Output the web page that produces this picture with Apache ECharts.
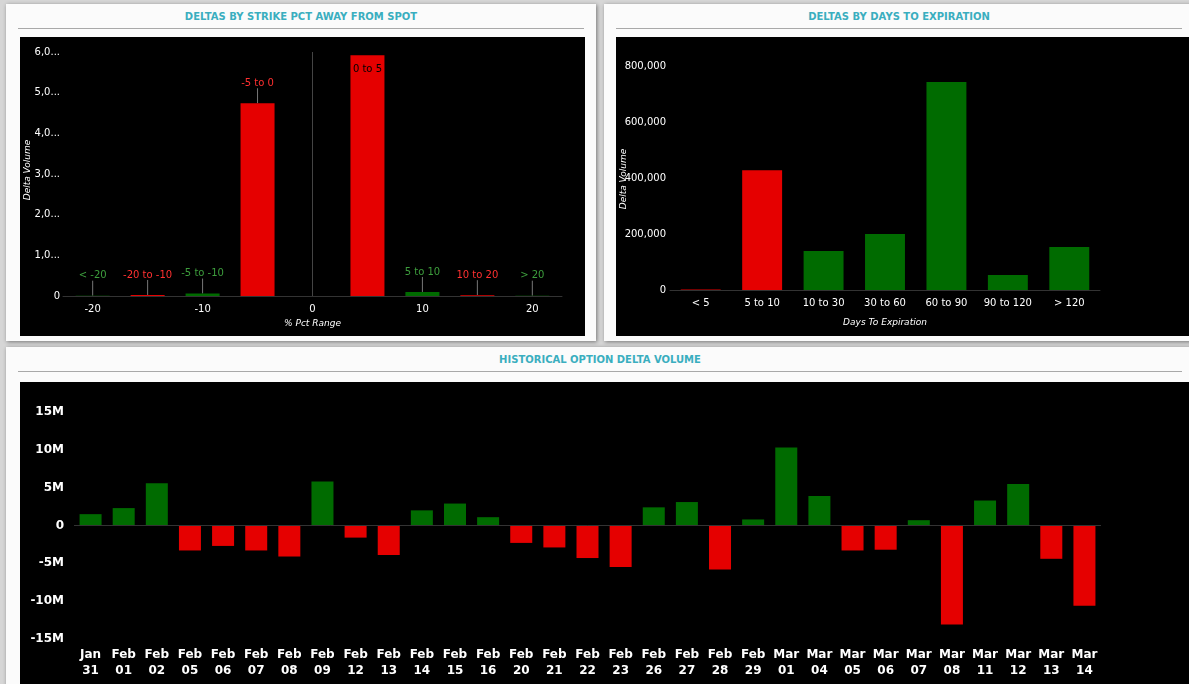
<!DOCTYPE html>
<html>
<head>
<meta charset="utf-8">
<script src="https://cdn.jsdelivr.net/npm/echarts@6/dist/echarts.min.js"></script>
<style>
  body { margin: 0; width: 1189px; height: 684px; background: #d6d6d6; overflow: hidden; font-family: Verdana, "DejaVu Sans", sans-serif; }
  .panel { position: absolute; background: #fbfbfb; box-shadow: 1px 1px 4px rgba(0,0,0,0.45); }
  .title { position: absolute; left: 12px; right: 12px; top: 8px; height: 16px; border-bottom: 1px solid #a9a9a9;
           text-align: center; color: #3aaebf; font-weight: bold; font-size: 10px; line-height: 10px; }
  .chart { position: absolute; background: #000; }
</style>
</head>
<body>
<div class="panel" style="left:6px;top:4px;width:590px;height:337px">
  <div class="title">DELTAS BY STRIKE PCT AWAY FROM SPOT</div>
  <div class="chart" id="strike" style="left:14px;top:33px;width:565px;height:299px"></div>
</div>
<div class="panel" style="left:604px;top:4px;width:590px;height:337px">
  <div class="title">DELTAS BY DAYS TO EXPIRATION</div>
  <div class="chart" id="expiry" style="left:12px;top:33px;width:578px;height:299px"></div>
</div>
<div class="panel" style="left:6px;top:347px;width:1188px;height:340px">
  <div class="title">HISTORICAL OPTION DELTA VOLUME</div>
  <div class="chart" id="history" style="left:14px;top:35px;width:1174px;height:305px"></div>
</div>
<script>
var RED = '#e50000', GREEN = '#006b00';

// strike pct away from spot
var strikeLabels = ['< -20', '-20 to -10', '-5 to -10', '-5 to 0', '0 to 5', '5 to 10', '10 to 20', '> 20'];
var strikePos    = [-20, -15, -10, -5, 5, 10, 15, 20];
var strikeValues = [8000, 25000, 60000, 4740000, 5920000, 100000, 20000, 8000];
var strikeSigns  = [1, -1, 1, -1, -1, 1, -1, 1];

// days to expiration
var expiryCats   = ['< 5', '5 to 10', '10 to 30', '30 to 60', '60 to 90', '90 to 120', '> 120'];
var expiryValues = [2000, 428000, 139000, 200000, 743000, 54000, 154000];
var expirySigns  = [-1, -1, 1, 1, 1, 1, 1];

// historical
var histDates  = ['Jan\n31','Feb\n01','Feb\n02','Feb\n05','Feb\n06','Feb\n07','Feb\n08','Feb\n09','Feb\n12','Feb\n13','Feb\n14','Feb\n15','Feb\n16','Feb\n20','Feb\n21','Feb\n22','Feb\n23','Feb\n26','Feb\n27','Feb\n28','Feb\n29','Mar\n01','Mar\n04','Mar\n05','Mar\n06','Mar\n07','Mar\n08','Mar\n11','Mar\n12','Mar\n13','Mar\n14'];
var histValues = [1.5, 2.3, 5.6, -3.3, -2.7, -3.3, -4.1, 5.8, -1.6, -3.9, 2.0, 2.9, 1.1, -2.3, -2.9, -4.3, -5.5, 2.4, 3.1, -5.8, 0.8, 10.3, 3.9, -3.3, -3.2, 0.7, -13.1, 3.3, 5.5, -4.4, -10.6];
var histTicks  = [-15, -10, -5, 0, 5, 10, 15];

var FONT = 'Verdana, DejaVu Sans';
var axisText = { color: '#fff', fontSize: 10, fontFamily: FONT };
var nameText = { color: '#fff', fontSize: 9, fontStyle: 'italic', fontFamily: FONT };

// rotated y axis title, drawn over the tick labels like the original
function yName(x, y) {
  return { type: 'text', x: x, y: y, rotation: Math.PI / 2, silent: true,
           style: { text: 'Delta Volume', fill: '#fff', font: 'italic 9px ' + FONT, align: 'center', verticalAlign: 'middle' } };
}

var strikeChart = echarts.init(document.getElementById('strike'));
strikeChart.setOption({
  backgroundColor: '#000',
  animation: false,
  grid: { left: 43, right: 23, top: 15, bottom: 40, containLabel: false, outerBoundsMode: 'none' },
  graphic: [yName(8, 133)],
  xAxis: {
    type: 'value', min: -22.7, max: 22.7,
    name: '% Pct Range', nameLocation: 'middle', nameGap: 22, nameTextStyle: nameText,
    axisLine: { lineStyle: { color: '#333' } },
    axisTick: { show: false },
    splitLine: { show: false },
    axisLabel: Object.assign({ customValues: [-20, -10, 0, 10, 20], margin: 8 }, axisText)
  },
  yAxis: {
    type: 'value', min: 0, max: 6000000, interval: 1000000,
    axisLine: { show: false }, axisTick: { show: false }, splitLine: { show: false },
    axisLabel: Object.assign({
      margin: 3,
      formatter: function (v) { return v === 0 ? '0' : v.toLocaleString('en-US').slice(0, 3) + '...'; }
    }, axisText)
  },
  series: [{
    type: 'bar', barWidth: 34,
    data: strikePos.map(function (p, i) {
      var c = strikeSigns[i] > 0 ? GREEN : RED;
      return {
        value: [p, strikeValues[i]],
        itemStyle: { color: c },
        label: { show: true, position: 'top', formatter: strikeLabels[i],
                 color: i === 4 ? '#000' : (strikeSigns[i] > 0 ? '#3d9e3d' : '#ff3030'),
                 fontSize: 10, fontFamily: FONT }
      };
    }),
    labelLayout: function (p) { return p.dataIndex === 4 ? { dy: 24 } : { dy: -10 }; },
    labelLine: { show: true, lineStyle: { color: '#777', width: 1 } },
    markLine: {
      symbol: 'none', silent: true, label: { show: false },
      lineStyle: { color: '#444', type: 'solid', width: 1 },
      data: [[{ coord: [0, 0] }, { coord: [0, 6000000] }]]
    }
  }]
});

var expiryChart = echarts.init(document.getElementById('expiry'));
expiryChart.setOption({
  backgroundColor: '#000',
  animation: false,
  grid: { left: 54, right: 94, top: 29, bottom: 46, containLabel: false, outerBoundsMode: 'none' },
  graphic: [yName(8, 142)],
  xAxis: {
    type: 'category', data: expiryCats,
    name: 'Days To Expiration', nameLocation: 'middle', nameGap: 28, nameTextStyle: nameText,
    axisLine: { lineStyle: { color: '#333' } }, axisTick: { show: false },
    axisLabel: Object.assign({ margin: 8, interval: 0 }, axisText)
  },
  yAxis: {
    type: 'value', min: 0, max: 800000, interval: 200000,
    axisLine: { show: false }, axisTick: { show: false }, splitLine: { show: false },
    axisLabel: Object.assign({ formatter: function (v) { return v.toLocaleString('en-US'); }, margin: 4 }, axisText)
  },
  series: [{
    type: 'bar', barWidth: '65%',
    data: expiryValues.map(function (v, i) {
      return { value: v, itemStyle: { color: expirySigns[i] > 0 ? GREEN : RED } };
    })
  }]
});

var histChart = echarts.init(document.getElementById('history'));
histChart.setOption({
  backgroundColor: '#000',
  animation: false,
  grid: { left: 54, right: 93, top: 30, bottom: 48, containLabel: false, outerBoundsMode: 'none' },
  xAxis: {
    type: 'category', data: histDates, position: 'bottom',
    axisLine: { onZero: false, show: false }, axisTick: { show: false },
    axisLabel: { color: '#fff', fontSize: 12, fontWeight: 'bold', lineHeight: 16, interval: 0, margin: 8, fontFamily: FONT }
  },
  yAxis: {
    type: 'value', min: histTicks[0], max: histTicks[histTicks.length - 1], interval: 5,
    axisLine: { show: false }, axisTick: { show: false }, splitLine: { show: false },
    axisLabel: { color: '#fff', fontSize: 12, fontWeight: 'bold', margin: 10, formatter: function (v) { return v + (v === 0 ? '' : 'M'); }, fontFamily: FONT }
  },
  series: [{
    type: 'bar', barWidth: 22,
    data: histValues.map(function (v) {
      return { value: v, itemStyle: { color: v >= 0 ? GREEN : RED } };
    }),
    markLine: {
      symbol: 'none', silent: true, label: { show: false },
      lineStyle: { color: '#333', type: 'solid', width: 1 },
      data: [{ yAxis: 0 }]
    }
  }]
});
</script>
</body>
</html>
